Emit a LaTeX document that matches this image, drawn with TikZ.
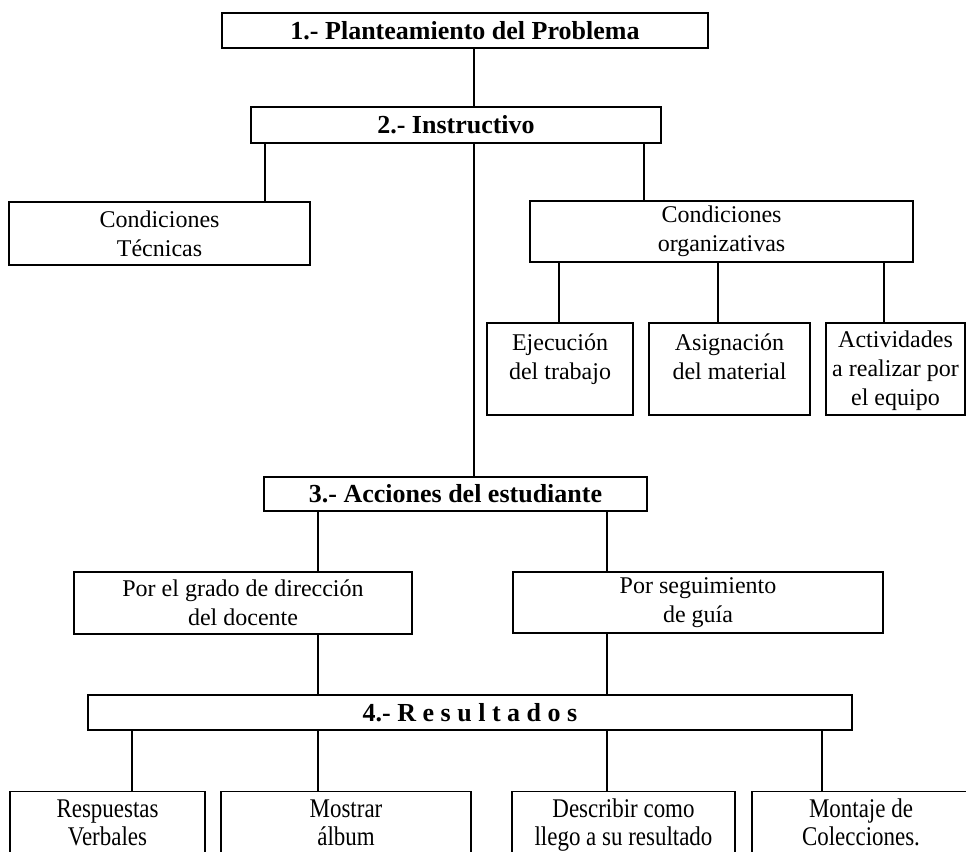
\documentclass[tikz,border=0pt]{standalone}
\usepackage{fontspec}
\setmainfont{Liberation Serif}
\newfontfamily\condfont[FakeStretch=0.85]{Liberation Serif}
\begin{document}
\begin{tikzpicture}[x=1pt,y=-1pt,
  box/.style={draw, line width=1.3pt, rectangle, inner sep=0pt, align=center,
    font=\fontsize{24}{29}\selectfont},
  head/.style={box, font=\fontsize{26}{30}\selectfont\bfseries},
  low/.style={box, anchor=north, inner ysep=6pt, font=\condfont\fontsize{27}{28}\selectfont},
  link/.style={line width=1.2pt}]
\useasboundingbox (0,0) rectangle (966,851);
\clip (0,0) rectangle (966,851);
% column coordinates for connectors
\coordinate (xa) at (474,0);
\coordinate (xb) at (265,0);
\coordinate (xc) at (644,0);
\coordinate (xd) at (559,0);
\coordinate (xe) at (718,0);
\coordinate (xf) at (884,0);
\coordinate (xg) at (318,0);
\coordinate (xh) at (607,0);
\coordinate (xi) at (132,0);
\coordinate (xj) at (822,0);
% boxes
\node[head, minimum width=486pt, minimum height=35pt] (b1) at (465,30.5) {1.- Planteamiento del Problema};
\node[head, minimum width=410pt, minimum height=36pt] (b2) at (456,125) {2.- Instructivo};
\node[box, minimum width=301pt, minimum height=63pt] (ct) at (159.5,233.5) {Condiciones\\Técnicas};
\node[box, minimum width=383pt, minimum height=61pt] (co) at (721.5,231.5) {Condiciones\\organizativas};
\node[box, minimum width=146pt, minimum height=92pt] (ej) at (560,369) {\strut Ejecución\\del trabajo\\\mbox{}};
\node[box, minimum width=161pt, minimum height=92pt] (as) at (729.5,369) {\strut Asignación\\del material\\\mbox{}};
\node[box, minimum width=139pt, minimum height=92pt] (ac) at (895.5,369) {\strut Actividades\\a realizar por\\el equipo};
\node[head, minimum width=383pt, minimum height=34pt] (b3) at (455.5,494) {3.- Acciones del estudiante};
\node[box, minimum width=338pt, minimum height=62pt] (pg) at (243,603) {Por el grado de dirección\\del docente};
\node[box, minimum width=370pt, minimum height=61pt] (ps) at (698,602.5) {Por seguimiento\\de guía};
\node[head, minimum width=764pt, minimum height=35pt] (b4) at (470,712.5) {4.- R e s u l t a d o s};
\node[low, minimum width=195pt] (rv) at (107.5,791) {\strut Respuestas\\Verbales\\\strut};
\node[low, minimum width=250pt] (ma) at (346,791) {\strut Mostrar\\álbum\\\strut};
\node[low, minimum width=223pt] (dc) at (623.5,791) {\strut Describir como\\llego a su resultado\\\strut};
\node[low, minimum width=218pt] (mc) at (861,791) {\strut Montaje de\\Colecciones.\\\strut};
% connectors
\draw[link] (b1.south -| xa) -- (b2.north -| xa);
\draw[link] (b2.south -| xb) -- (ct.north -| xb);
\draw[link] (b2.south -| xa) -- (b3.north -| xa);
\draw[link] (b2.south -| xc) -- (co.north -| xc);
\draw[link] (co.south -| xd) -- (ej.north -| xd);
\draw[link] (co.south -| xe) -- (as.north -| xe);
\draw[link] (co.south -| xf) -- (ac.north -| xf);
\draw[link] (b3.south -| xg) -- (pg.north -| xg);
\draw[link] (b3.south -| xh) -- (ps.north -| xh);
\draw[link] (pg.south -| xg) -- (b4.north -| xg);
\draw[link] (ps.south -| xh) -- (b4.north -| xh);
\draw[link] (b4.south -| xi) -- (rv.north -| xi);
\draw[link] (b4.south -| xg) -- (ma.north -| xg);
\draw[link] (b4.south -| xh) -- (dc.north -| xh);
\draw[link] (b4.south -| xj) -- (mc.north -| xj);
\end{tikzpicture}
\end{document}
